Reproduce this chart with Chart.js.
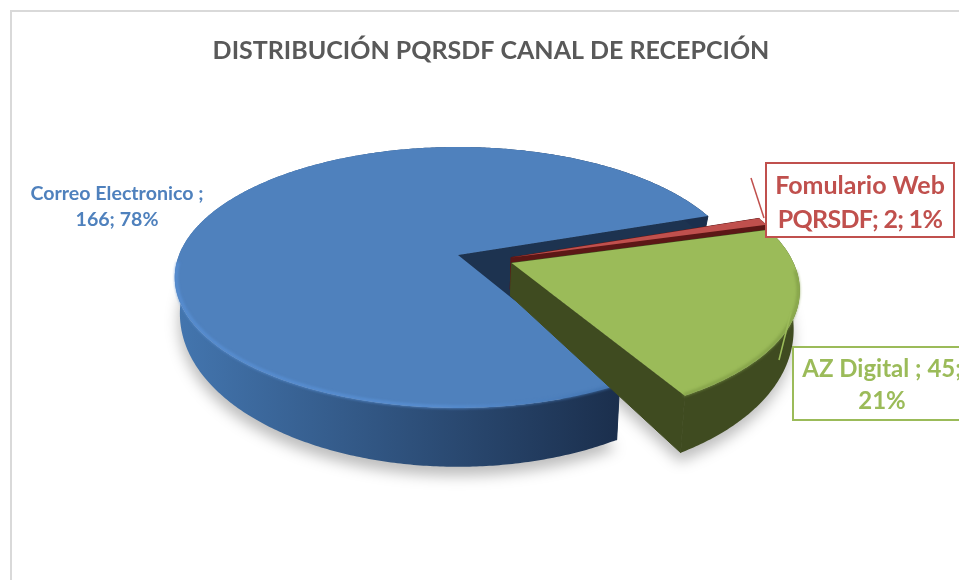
<!DOCTYPE html>
<html>
<head>
<meta charset="utf-8">
<style>
  html, body { margin: 0; padding: 0; background: #fff; overflow: hidden; }
  canvas { display: block; }
</style>
<script src="https://cdn.jsdelivr.net/npm/chart.js@4/dist/chart.umd.min.js"></script>
</head>
<body>
<canvas id="pie-chart" width="959" height="580"></canvas>
<script>
var categories = ["Correo Electronico", "Fomulario Web PQRSDF", "AZ Digital"];
var values = [166, 2, 45];
var chartTitle = "DISTRIBUCIÓN PQRSDF CANAL DE RECEPCIÓN";

var topColors = ["#4F81BD", "#C0504D", "#9BBB59"];
var faceColors = ["#1D3350", "#5C1716", "#3F4B20"];
var sideColors = ["#4375AE", "#5C1716", "#3F4B20"];
var sideEndColors = ["#1B2F4D", "#5C1716", "#3F4B20"];
var rimColors = ["#5A92D8", "#C0504D", "#7F9C45"];
var rimEndColors = ["#3F70AB", "#C0504D", "#7F9C45"];

// how far each slice is pulled out of the centre, in radius units
var explodeX = [0, 0.19, 0.19];
var explodeY = [0, 0.02, 0.0625];

// perspective fitted by hand against the picture
var view = { cx: 458, cy: 255, rx: 279, ry: 126.6, tilt: 0.172, narrow: 0.018, depth: 31.3, depthFront: 27.6 };

function project(u, v, z) {
    var w = 1 - view.tilt * v;
    return {
        x: view.cx + view.rx * u / w * (1 - view.narrow * z),
        y: view.cy + view.ry * v / w + z * (view.depth + view.depthFront * v)
    };
}

function anglesOf(arc) {
    var list = [];
    var steps = Math.max(2, Math.ceil((arc.endAngle - arc.startAngle) / 0.01));
    for (var s = 0; s <= steps; s++) {
        list.push(arc.startAngle + (arc.endAngle - arc.startAngle) * s / steps);
    }
    return list;
}

function rimPoint(i, angle, z, scale) {
    var r = scale || 1;
    return project(explodeX[i] + Math.cos(angle) * r, explodeY[i] + Math.sin(angle) * r, z);
}

function tracePoints(ctx, points) {
    ctx.beginPath();
    points.forEach(function(p, n) {
        if (n === 0) ctx.moveTo(p.x, p.y); else ctx.lineTo(p.x, p.y);
    });
    ctx.closePath();
}

function wedge(i, arc, z) {
    var points = [project(explodeX[i], explodeY[i], z)];
    anglesOf(arc).forEach(function(a) { points.push(rimPoint(i, a, z)); });
    return points;
}

function drawShadow(ctx, i, arc) {
    ctx.save();
    ctx.filter = "blur(7px)";
    ctx.fillStyle = "rgba(0,0,0,0.26)";
    tracePoints(ctx, wedge(i, arc, 1).map(function(p) { return { x: p.x - 1, y: p.y + 9 }; }));
    ctx.fill();
    ctx.restore();
}

function drawSlice(ctx, i, arc) {
    var angles = anglesOf(arc);

    // cut faces, the inner corner runs deeper so the gap stays dark
    ctx.fillStyle = faceColors[i];
    ctx.strokeStyle = faceColors[i];
    ctx.lineWidth = 1;
    [arc.startAngle, arc.endAngle].forEach(function(a) {
        tracePoints(ctx, [
            project(explodeX[i], explodeY[i], 0),
            rimPoint(i, a, 0),
            rimPoint(i, a, 1),
            project(explodeX[i], explodeY[i], i === 0 ? 2 : 1)
        ]);
        ctx.fill();
        ctx.stroke();
    });

    // outer wall, sampled around the rim
    var wall = [];
    angles.forEach(function(a) { wall.push(rimPoint(i, a, 0)); });
    angles.slice().reverse().forEach(function(a) { wall.push(rimPoint(i, a, 1)); });
    var sideFill = ctx.createLinearGradient(617, 0, 180, 0);
    sideFill.addColorStop(0, sideEndColors[i]);
    sideFill.addColorStop(1, sideColors[i]);
    ctx.fillStyle = sideFill;
    tracePoints(ctx, wall);
    ctx.fill();

    // top
    ctx.fillStyle = topColors[i];
    tracePoints(ctx, wedge(i, arc, 0));
    ctx.fill();

    // soft bevel on the front of the rim
    var rimFill = ctx.createLinearGradient(440, 0, 617, 0);
    rimFill.addColorStop(0, rimColors[i]);
    rimFill.addColorStop(1, rimEndColors[i]);
    ctx.save();
    ctx.filter = "blur(1.5px)";
    ctx.strokeStyle = rimFill;
    ctx.lineWidth = 2.5;
    ctx.beginPath();
    var started = false;
    angles.forEach(function(a) {
        var v = Math.sin(a);
        if (v < 0.05) { started = false; return; }
        var p = rimPoint(i, a, 0, 0.995);
        if (started) ctx.lineTo(p.x, p.y); else ctx.moveTo(p.x, p.y);
        started = true;
    });
    ctx.stroke();
    ctx.restore();
}

function percentOf(i) {
    var total = values.reduce(function(a, b) { return a + b; }, 0);
    return Math.round(values[i] / total * 100) + "%";
}

function drawLabels(ctx) {
    ctx.save();
    ctx.textAlign = "center";
    ctx.textBaseline = "middle";

    // Correo Electronico
    ctx.font = "bold 19.6px Lato";
    ctx.fillStyle = topColors[0];
    ctx.fillText(categories[0] + " ;", 117, 194);
    ctx.fillText(values[0] + "; " + percentOf(0), 117, 220);

    // Fomulario Web PQRSDF
    ctx.strokeStyle = topColors[1];
    ctx.lineWidth = 1.5;
    ctx.beginPath();
    ctx.moveTo(751, 178);
    ctx.lineTo(764, 218);
    ctx.stroke();
    ctx.fillStyle = "#fff";
    ctx.fillRect(766, 163, 188, 74);
    ctx.lineWidth = 2;
    ctx.strokeRect(766, 163, 188, 74);
    var parts = categories[1].split(" ");
    ctx.font = "bold 25px Lato";
    ctx.fillStyle = topColors[1];
    ctx.fillText(parts[0] + " " + parts[1], 860, 186);
    ctx.letterSpacing = "-0.7px";
    ctx.fillText(parts[2] + "; " + values[1] + "; " + percentOf(1), 860, 220);
    ctx.letterSpacing = "0px";

    // AZ Digital
    ctx.strokeStyle = topColors[2];
    ctx.lineWidth = 1.5;
    ctx.beginPath();
    ctx.moveTo(791, 312);
    ctx.lineTo(779, 360);
    ctx.stroke();
    ctx.fillStyle = "#fff";
    ctx.fillRect(793, 347, 178, 73);
    ctx.lineWidth = 2;
    ctx.strokeRect(793, 347, 178, 73);
    ctx.font = "bold 24px Lato";
    ctx.fillStyle = topColors[2];
    ctx.fillText(categories[2] + " ; " + values[2] + ";", 882, 369);
    ctx.fillText(percentOf(2), 882, 401);
    ctx.restore();
}

var perspectivePie = {
    id: "perspectivePie",
    beforeDraw: function(chart) {
        var ctx = chart.ctx;
        ctx.save();
        ctx.strokeStyle = "#D9D9D9";
        ctx.lineWidth = 2;
        ctx.beginPath();
        ctx.moveTo(11, 580);
        ctx.lineTo(11, 11);
        ctx.lineTo(959, 11);
        ctx.stroke();
        ctx.restore();
    },
    beforeDatasetsDraw: function(chart) {
        var ctx = chart.ctx;
        var arcs = chart.getDatasetMeta(0).data;
        ctx.save();
        arcs.forEach(function(arc, i) { drawShadow(ctx, i, arc); });
        arcs.forEach(function(arc, i) { drawSlice(ctx, i, arc); });
        drawLabels(ctx);
        ctx.restore();
        return false;
    }
};

new Chart(document.getElementById("pie-chart"), {
    type: "pie",
    data: {
        labels: categories,
        datasets: [{ data: values, backgroundColor: topColors, borderWidth: 0 }]
    },
    options: {
        responsive: false,
        animation: false,
        rotation: 150.5,
        layout: { padding: { left: 23 } },
        plugins: {
            legend: { display: false },
            tooltip: { enabled: false },
            title: {
                display: true,
                text: chartTitle,
                color: "#595959",
                font: { family: "Lato", size: 25, weight: "bold" },
                padding: { top: 36, bottom: 10 }
            }
        }
    },
    plugins: [perspectivePie]
});
</script>
</body>
</html>
